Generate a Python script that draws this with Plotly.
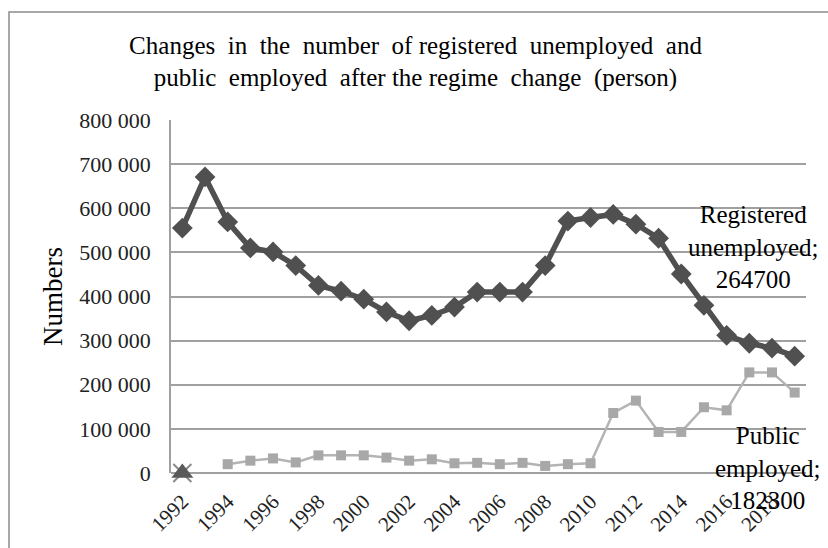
import plotly.graph_objects as go

years = list(range(1992, 2020))
registered_unemployed = [555000, 671000, 569000, 510000, 501000, 470000, 425000, 412000,
                         394000, 365000, 345000, 357000, 376000, 410000, 410000, 410000,
                         470000, 571000, 579000, 586000, 564000, 532000, 451000, 380000,
                         312000, 294000, 283000, 264700]
public_years = list(range(1994, 2020))
public_employed = [20000, 28000, 33000, 24000, 40000, 40000, 40000, 35000, 28000, 31000,
                   22000, 23000, 20000, 23000, 16000, 20000, 22000, 136000, 164000, 93000,
                   93000, 149000, 142000, 228000, 228000, 182300]
extra_years = [1992]
extra_triangle = [0]
extra_x = [0]
y_ticks = [0, 100000, 200000, 300000, 400000, 500000, 600000, 700000, 800000]
x_ticks = list(range(1992, 2020, 2))

W, H = 828, 548
L, R, T, B = 171, 22, 120, 72
pw, ph = W - L - R, H - T - B

FONT = "Liberation Serif, Times New Roman, serif"
SP = "&nbsp;"

fig = go.Figure()
fig.add_trace(go.Scatter(x=years, y=registered_unemployed, mode="lines+markers",
                         name="Registered unemployed",
                         line=dict(color="#505050", width=5.5),
                         marker=dict(symbol="diamond", size=16, color="#505050")))
fig.add_trace(go.Scatter(x=public_years, y=public_employed, mode="lines+markers",
                         name="Public employed",
                         line=dict(color="#b4b4b4", width=2.5),
                         marker=dict(symbol="square", size=10, color="#a8a8a8")))
fig.add_trace(go.Scatter(x=extra_years, y=extra_x, mode="markers", cliponaxis=False,
                         marker=dict(symbol="x-thin", size=18, line=dict(color="#8a8a8a", width=2))))
fig.add_trace(go.Scatter(x=extra_years, y=extra_triangle, mode="markers", cliponaxis=False,
                         marker=dict(symbol="triangle-up", size=19, color="#5a5a5a")))

fig.add_annotation(x=years[-1], y=registered_unemployed[-1],
                   text="Registered<br>unemployed;<br>264700", showarrow=False,
                   xshift=-41, yshift=109, font=dict(family=FONT, size=25, color="#000"),
                   align="center")
fig.add_annotation(x=public_years[-1], y=public_employed[-1],
                   text="Public<br>employed;<br>182300", showarrow=False,
                   xshift=-27, yshift=-75, font=dict(family=FONT, size=25, color="#000"),
                   align="center")

# outer chart frame
fig.add_shape(type="rect", xref="paper", yref="paper",
              x0=(9 - L) / pw, x1=(W + 10 - L) / pw,
              y0=(H - B - (H + 10)) / ph, y1=(H - B - 11) / ph,
              line=dict(color="#8c8c8c", width=1.5), layer="below")

title_text = ("Changes" + SP * 2 + "in" + SP * 2 + "the" + SP * 2 + "number" + SP * 2 + "of registered"
              + SP * 2 + "unemployed" + SP * 2 + "and<br>public" + SP * 2 + "employed" + SP * 2
              + "after the regime" + SP * 2 + "change" + SP * 2 + "(person)")

fig.update_layout(
    width=W, height=H,
    margin=dict(l=L, r=R, t=T, b=B),
    paper_bgcolor="white", plot_bgcolor="white",
    showlegend=False,
    separators=". ",
    font=dict(family=FONT, size=22, color="#222"),
    title=dict(text=title_text,
               x=(415.5 / W), xanchor="center", xref="container", y=1 - 53.5 / H, yanchor="middle",
               font=dict(family=FONT, size=25, color="#000")),
)
fig.update_xaxes(range=[1991.5, 2019.5], tickvals=x_ticks, ticktext=[str(v) for v in x_ticks],
                 tickangle=-45, showgrid=False, showline=False, zeroline=False,
                 ticks="outside", ticklen=7, tickcolor="rgba(0,0,0,0)",
                 tickfont=dict(family=FONT, size=21, color="#222"))
fig.update_yaxes(range=[0, 800000], tickvals=y_ticks, tickformat=",d",
                 showgrid=True, gridcolor="#a0a0a0", gridwidth=1.5,
                 showline=True, linecolor="#a0a0a0", linewidth=1.5,
                 zeroline=True, zerolinecolor="#a0a0a0", zerolinewidth=1.5,
                 ticklabelstandoff=14,
                 title=dict(text="Numbers", font=dict(family=FONT, size=27, color="#000"), standoff=9),
                 tickfont=dict(family=FONT, size=22, color="#222"))

fig.write_html("out.html", config={"displayModeBar": False},
               post_script="document.body.style.margin='0';document.body.style.overflow='hidden';")
